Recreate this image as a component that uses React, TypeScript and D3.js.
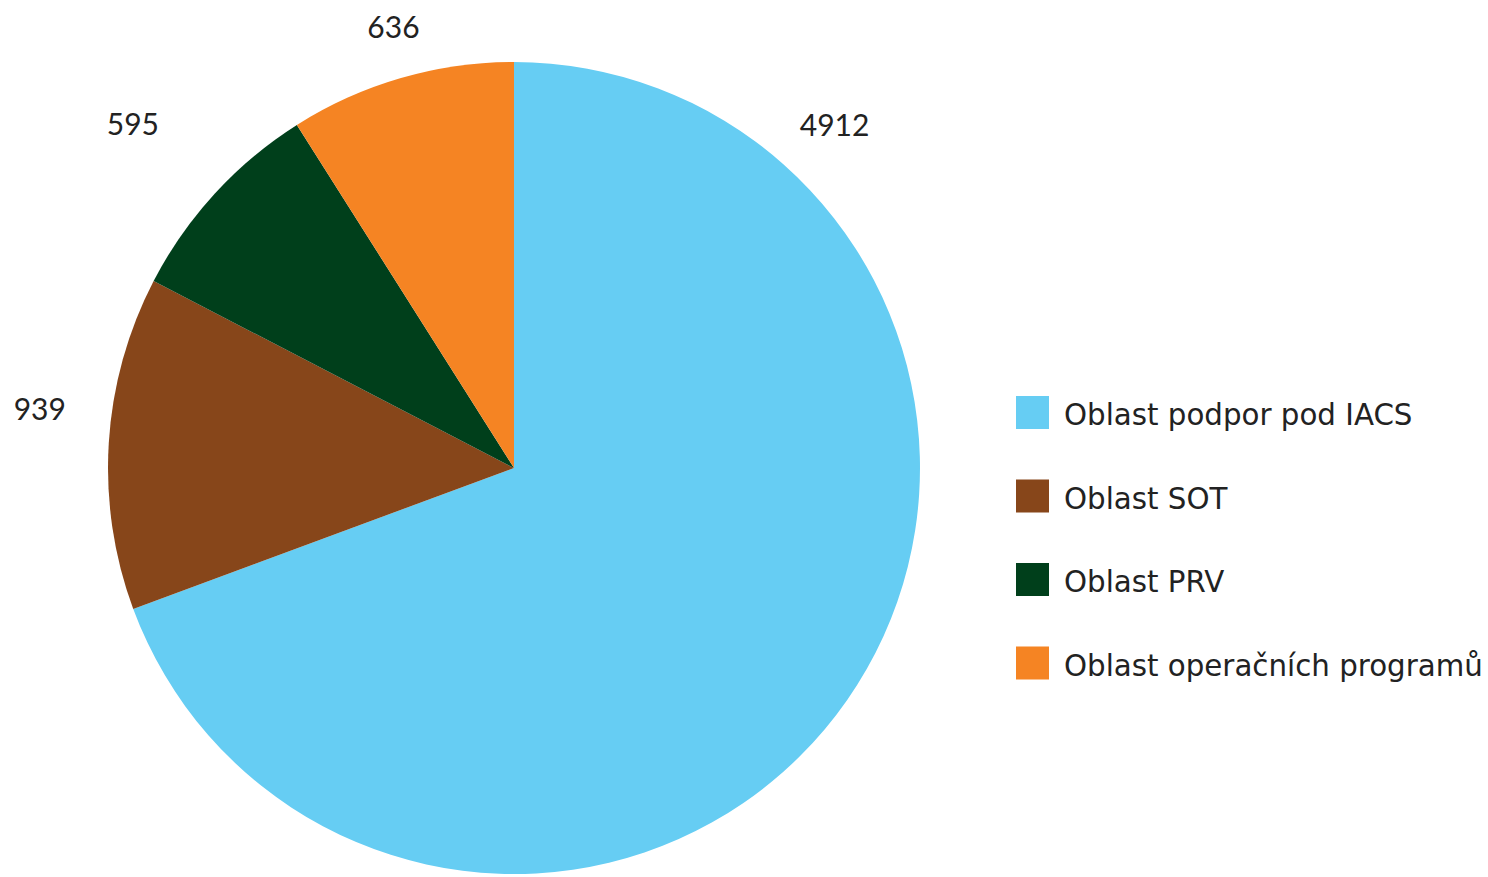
import React from "react";
import * as d3 from "d3";

const categories = ["Oblast podpor pod IACS", "Oblast SOT", "Oblast PRV", "Oblast operačních programů"];
const values = [4912, 939, 595, 636];
const colors = ["#66CDF3", "#87461A", "#003F1B", "#F58423"];

// layout constants
const W = 1488, H = 877;
const CX = 514, CY = 468, R = 406;
const labelRadii = [470, 478, 514, 458];
const labelShiftDeg = [0, 3.6, -0.4, 0.9];
const maxLabelOffset = (43 * Math.PI) / 180;

export default function App() {
  const data = categories.map((c, i) => ({ c, v: values[i], i }));
  const pie = d3.pie<any>().value((d) => d.v).sort(null);
  const arcs = pie(data);
  const arc = d3.arc<any>().innerRadius(0).outerRadius(R);
  const legendY = d3.scaleBand().domain(categories).range([396, 730]).paddingInner(0);

  return (
    <svg width={W} height={H} style={{ position: "absolute", left: 0, top: 0, background: "#fff" }}>
      <g transform={`translate(${CX},${CY})`}>
        {arcs.map((a, i) => (
          <path key={i} d={arc(a) as string} fill={colors[i]} />
        ))}
        {arcs.map((a, i) => {
          const mid = (a.startAngle + a.endAngle) / 2;
          const ang = Math.min(mid, a.startAngle + maxLabelOffset) + (labelShiftDeg[i] * Math.PI) / 180;
          const r = labelRadii[i];
          const x = r * Math.sin(ang);
          const y = -r * Math.cos(ang);
          return (
            <text key={i} x={x} y={y} textAnchor="middle" dominantBaseline="central"
              fontFamily="Lato" fontSize={30} fill="#222">
              {values[i]}
            </text>
          );
        })}
      </g>
      <g>
        {categories.map((c, i) => {
          const y = legendY(c) as number;
          return (
            <g key={c}>
              <rect x={1016} y={y} width={33} height={33} fill={colors[i]} />
              <text x={1064} y={y + 19} dominantBaseline="central" fontFamily="DejaVu Sans"
                fontSize={29.3} fill="#222">
                {c}
              </text>
            </g>
          );
        })}
      </g>
    </svg>
  );
}
